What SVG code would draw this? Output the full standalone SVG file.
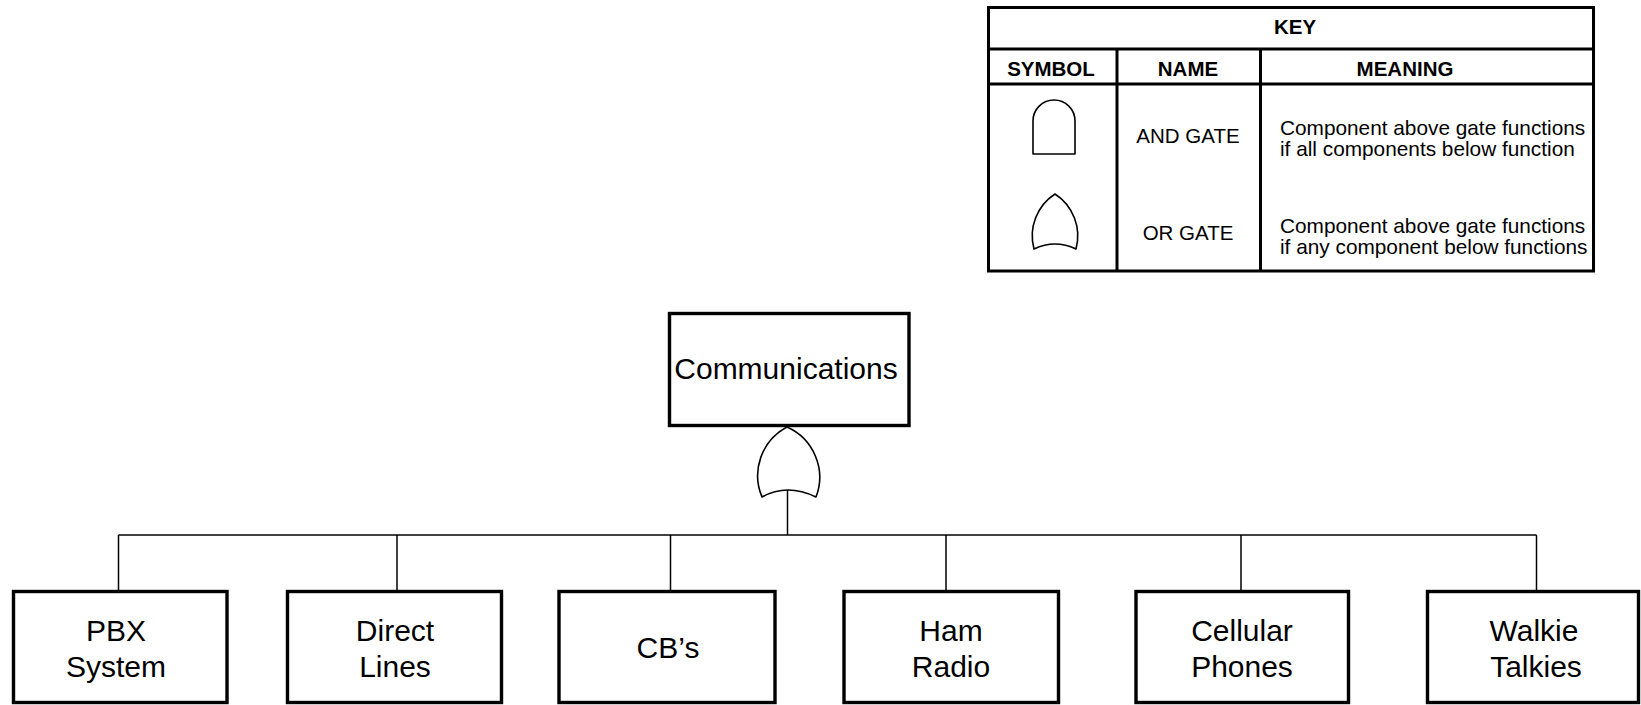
<svg xmlns="http://www.w3.org/2000/svg" width="1641" height="705" viewBox="0 0 1641 705">
<style>
.box{fill:#fff;stroke:#000;stroke-width:3.4}
.ln{fill:none;stroke:#000;stroke-width:1.5}
.gate{fill:#fff;stroke:#000;stroke-width:1.6;stroke-linejoin:round}
.kb{fill:none;stroke:#000;stroke-width:3}
.t{font-family:"Liberation Sans",Arial,sans-serif;fill:#000;text-anchor:middle}
.big{font-size:30px}
.hd{font-size:20.5px;font-weight:bold}
.nm{font-size:20.5px}
.mn{font-size:20.8px;text-anchor:start}
</style>
<rect width="1641" height="705" fill="#fff"/>

<g id="key">
  <rect class="kb" x="988.5" y="7.5" width="605" height="263.5"/>
  <line class="kb" x1="988.5" y1="49" x2="1593.5" y2="49"/>
  <line class="kb" x1="988.5" y1="84" x2="1593.5" y2="84"/>
  <line class="kb" x1="1117" y1="49" x2="1117" y2="271"/>
  <line class="kb" x1="1260.5" y1="49" x2="1260.5" y2="271"/>
  <text class="t hd" x="1295" y="34">KEY</text>
  <text class="t hd" x="1051" y="76">SYMBOL</text>
  <text class="t hd" x="1188" y="76">NAME</text>
  <text class="t hd" x="1405" y="76">MEANING</text>
  <path class="gate" d="M1033,154 V121 A21,21 0 0 1 1075,121 V154 Z"/>
  <text class="t nm" x="1188" y="143">AND GATE</text>
  <text class="t mn" x="1280" y="135">Component above gate functions</text>
  <text class="t mn" x="1280" y="156">if all components below function</text>
  <path class="gate" d="M1055,194 A50,50 0 0 0 1034,249 Q1055,239 1076,249 A50,50 0 0 0 1055,194 Z"/>
  <text class="t nm" x="1188" y="240">OR GATE</text>
  <text class="t mn" x="1280" y="233">Component above gate functions</text>
  <text class="t mn" x="1280" y="254">if any component below functions</text>
</g>

<g id="connectors">
  <line class="ln" x1="787.5" y1="490" x2="787.5" y2="535"/>
  <line class="ln" x1="118.5" y1="535" x2="1536.5" y2="535"/>
  <line class="ln" x1="118.5" y1="535" x2="118.5" y2="591"/>
  <line class="ln" x1="397" y1="535" x2="397" y2="591"/>
  <line class="ln" x1="670.5" y1="535" x2="670.5" y2="591"/>
  <line class="ln" x1="946" y1="535" x2="946" y2="591"/>
  <line class="ln" x1="1241" y1="535" x2="1241" y2="591"/>
  <line class="ln" x1="1536.5" y1="535" x2="1536.5" y2="591"/>
</g>

<g id="or-gate">
  <path class="gate" d="M787,427 A55,55 0 0 0 762,497 Q787,483 816,497 A55,55 0 0 0 787,427 Z"/>
</g>

<g id="communications">
  <rect class="box" x="669.5" y="313.5" width="239.5" height="112"/>
  <text class="t" x="786" y="379" font-size="30">Communications</text>
</g>

<g id="pbx">
  <rect class="box" x="13.5" y="591.5" width="213.5" height="111"/>
  <text class="t big" x="116" y="641">PBX</text>
  <text class="t big" x="116" y="677">System</text>
</g>
<g id="direct">
  <rect class="box" x="287.5" y="591.5" width="214" height="111"/>
  <text class="t big" x="395" y="641">Direct</text>
  <text class="t big" x="395" y="677">Lines</text>
</g>
<g id="cbs">
  <rect class="box" x="559" y="591.5" width="216" height="111"/>
  <text class="t big" x="668" y="658">CB’s</text>
</g>
<g id="ham">
  <rect class="box" x="844" y="591.5" width="214.5" height="111"/>
  <text class="t big" x="951" y="641">Ham</text>
  <text class="t big" x="951" y="677">Radio</text>
</g>
<g id="cellular">
  <rect class="box" x="1136" y="591.5" width="212.5" height="111"/>
  <text class="t big" x="1242" y="641">Cellular</text>
  <text class="t big" x="1242" y="677">Phones</text>
</g>
<g id="walkie">
  <rect class="box" x="1427.5" y="591.5" width="211" height="111"/>
  <text class="t big" x="1534" y="641">Walkie</text>
  <text class="t big" x="1536" y="677">Talkies</text>
</g>
</svg>
